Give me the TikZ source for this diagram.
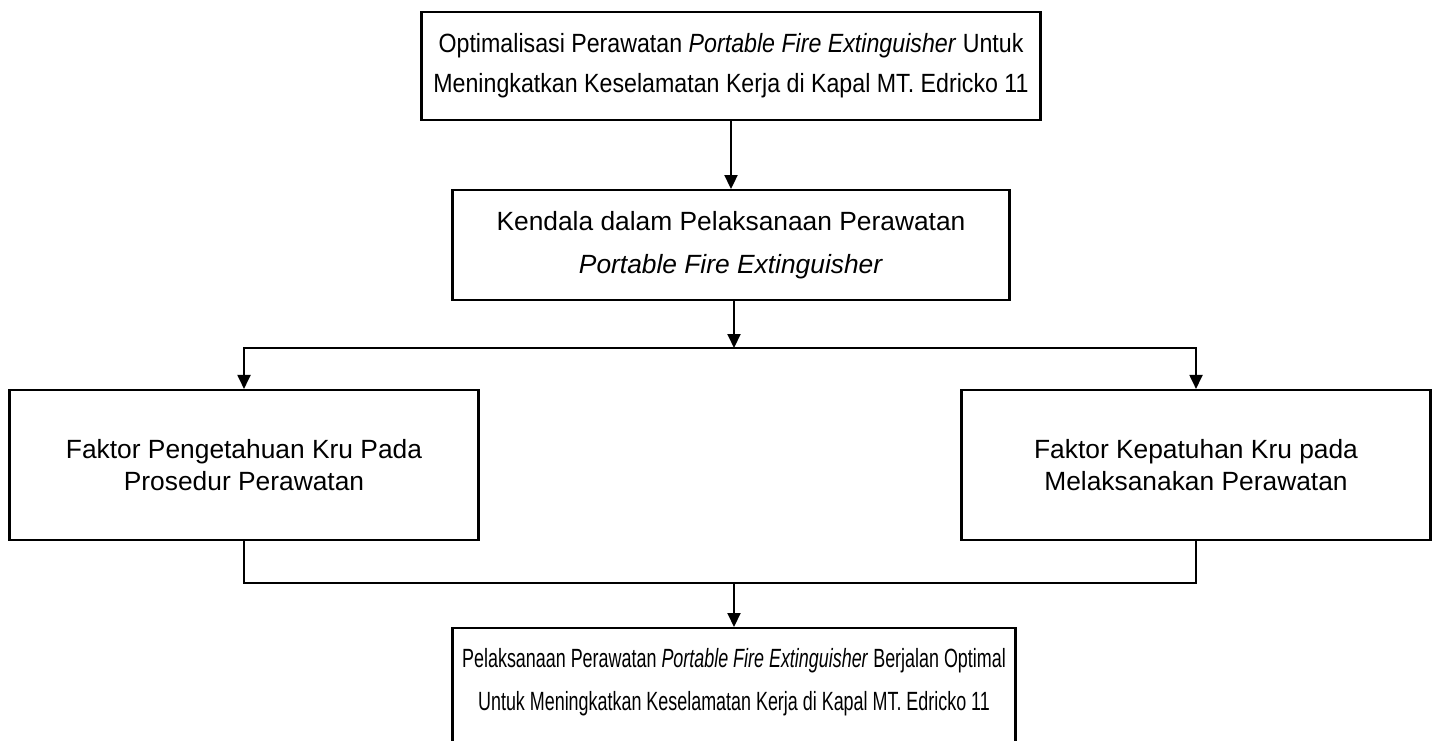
\documentclass[tikz,border=0pt]{standalone}
\usepackage{fontspec}
\setmainfont{Liberation Sans}
\newfontfamily\narrowfont[FakeStretch=0.88]{Liberation Sans}
\newfontfamily\narrowerfont[FakeStretch=0.68]{Liberation Sans}
\usepackage{tikz}
\usetikzlibrary{arrows.meta,positioning}

\begin{document}
\begin{tikzpicture}[
      box/.style={draw=black,line width=1.2pt,align=center,inner sep=0pt,font=\fontsize{15}{23.5}\selectfont},
      sidebox/.style={box,minimum width=9.38cm,minimum height=3cm,font=\fontsize{15}{18}\selectfont},
      link/.style={line width=1.1pt},
      arrow/.style={link,-{Triangle[length=0.28cm,width=0.26cm]}}
    ]
    \useasboundingbox (0,0) rectangle (28.76,-14.8);
    \node[box,minimum width=12.38cm,minimum height=2.16cm,font=\narrowfont\fontsize{15}{22.8}\selectfont] (goal) at (14.62,-1.32)
      {Optimalisasi Perawatan \textit{Portable Fire Extinguisher} Untuk\\
       Meningkatkan Keselamatan Kerja di Kapal MT. Edricko 11};
    \node[box,minimum width=11.14cm,minimum height=2.2cm,below=1.36cm of goal,font=\fontsize{15}{24.5}\selectfont] (issue)
      {Kendala dalam Pelaksanaan Perawatan\\
       \textit{Portable Fire Extinguisher}};
    \node[sidebox] (know) at (4.88,-9.3)
      {Faktor Pengetahuan Kru Pada\\Prosedur Perawatan};
    \node[sidebox] (comply) at (23.92,-9.3)
      {Faktor Kepatuhan Kru pada\\Melaksanakan Perawatan};
    \coordinate (split) at (14.68,-6.96);
    \coordinate (join) at (14.68,-11.66);
    \node[box,minimum width=11.26cm,minimum height=2.5cm,text depth=0.45cm,anchor=north,font=\narrowerfont\fontsize{15}{24.5}\selectfont] (result) at (14.68,-12.54)
      {Pelaksanaan Perawatan \textit{Portable Fire Extinguisher} Berjalan Optimal\\
       Untuk Meningkatkan Keselamatan Kerja di Kapal MT. Edricko 11};

    \draw[arrow] (goal) -- (issue);
    \draw[arrow] (issue.south -| split) -- (split);
    \draw[arrow] (split) -| (know.north);
    \draw[arrow] (split) -| (comply.north);
    \draw[link] (know.south) |- (join);
    \draw[link] (comply.south) |- (join);
    \draw[arrow] (join) -- (result);
  \end{tikzpicture}
\end{document}
